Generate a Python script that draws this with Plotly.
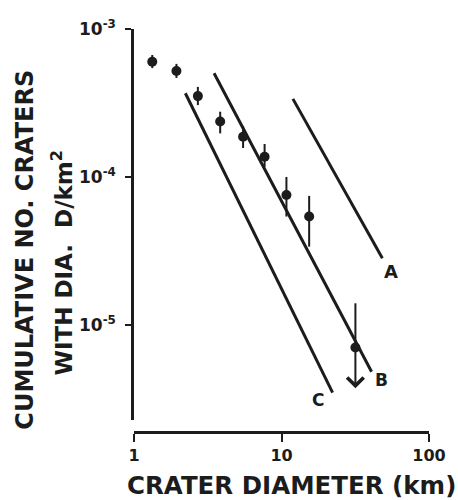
import numpy as np
import plotly.graph_objects as go

# ---- data ----
diam_km = [1.33, 1.94, 2.71, 3.84, 5.49, 7.68, 10.8, 15.4, 31.7]
cum_density = [6.01e-4, 5.20e-4, 3.52e-4, 2.37e-4, 1.87e-4, 1.37e-4, 7.55e-5, 5.40e-5, 7.03e-6]
err_upper = [6.67e-4, 5.81e-4, 4.06e-4, 2.76e-4, 2.21e-4, 1.67e-4, 1.00e-4, 7.45e-5, 1.40e-5]
err_lower = [5.44e-4, 4.67e-4, 3.06e-4, 1.97e-4, 1.57e-4, 1.17e-4, 5.40e-5, 3.38e-5, 7.03e-6]
upper_limit_arrow_end = 3.73e-6  # last point is an upper limit (arrow)

line_A_x = [11.95, 48.3]
line_A_y = [3.37e-4, 2.82e-5]
line_B_x = [3.49, 40.8]
line_B_y = [5.02e-4, 4.83e-6]
line_C_x = [2.23, 22.2]
line_C_y = [3.68e-4, 3.49e-6]
line_labels = ["A", "B", "C"]
label_x = [55.2, 47.7, 17.7]
label_y = [2.28e-5, 4.25e-6, 3.11e-6]

x_tickvals = [1, 10, 100]
x_ticktext = ["1", "10", "100"]
y_tickvals = [1e-3, 1e-4, 1e-5]
y_ticktext = ["10<sup>-3</sup>", "10<sup>-4</sup>", "10<sup>-5</sup>"]

INK = "#1c1c1c"
FONT = "DejaVu Sans"

fig = go.Figure()

for lx, ly in [(line_A_x, line_A_y), (line_B_x, line_B_y), (line_C_x, line_C_y)]:
    fig.add_trace(go.Scatter(x=lx, y=ly, mode="lines",
                             line=dict(color=INK, width=3), showlegend=False,
                             hoverinfo="skip"))

plus = [u - y for u, y in zip(err_upper, cum_density)]
minus = [y - l for l, y in zip(err_lower, cum_density)]
fig.add_trace(go.Scatter(
    x=diam_km, y=cum_density, mode="markers",
    marker=dict(size=10, color=INK),
    error_y=dict(type="data", symmetric=False, array=plus, arrayminus=minus,
                 thickness=2, width=0, color=INK),
    showlegend=False))

annotations = []
# upper-limit arrow on last point
annotations.append(dict(
    x=np.log10(diam_km[-1]), y=np.log10(upper_limit_arrow_end),
    ax=np.log10(diam_km[-1]), ay=np.log10(cum_density[-1]),
    xref="x", yref="y", axref="x", ayref="y",
    showarrow=True, arrowhead=4, arrowsize=1.6, arrowwidth=2, arrowcolor=INK,
    text=" ", font=dict(size=2)))

label_sizes = [18, 17, 17]
for t, lx, ly, s in zip(line_labels, label_x, label_y, label_sizes):
    annotations.append(dict(x=np.log10(lx), y=np.log10(ly), xref="x", yref="y",
                            text=t, showarrow=False,
                            font=dict(family=FONT, size=s, color=INK, weight="bold")))

# axis titles
annotations.append(dict(x=-0.37, y=0.452, xref="paper", yref="paper",
                        text="CUMULATIVE NO. CRATERS", textangle=-90, showarrow=False,
                        xanchor="center", yanchor="middle",
                        font=dict(family=FONT, size=24, color=INK, weight="bold")))
annotations.append(dict(x=-0.245, y=0.42, xref="paper", yref="paper",
                        text="WITH DIA.  D/km<sup>2</sup>", textangle=-90, showarrow=False,
                        xanchor="center", yanchor="middle",
                        font=dict(family=FONT, size=23, color=INK, weight="bold")))
annotations.append(dict(x=0.535, y=-0.133, xref="paper", yref="paper",
                        text="CRATER DIAMETER (km)", showarrow=False,
                        xanchor="center", yanchor="middle",
                        font=dict(family=FONT, size=24.5, color=INK, weight="bold")))

fig.update_layout(
    width=458, height=500,
    margin=dict(l=134, r=22, t=29, b=68),
    paper_bgcolor="white", plot_bgcolor="white",
    annotations=annotations,
    xaxis=dict(type="log", range=[0, 2], showgrid=False, zeroline=False,
               showline=True, linewidth=2.5, linecolor=INK,
               ticks="outside", ticklen=8, tickwidth=2, tickcolor=INK,
               tickvals=x_tickvals, ticktext=x_ticktext,
               tickfont=dict(family=FONT, size=16, color=INK, weight="bold"),
               anchor="free", position=0),
    yaxis=dict(type="log", range=[-5.642, -3], domain=[0.03, 1], showgrid=False,
               zeroline=False, showline=True, linewidth=2.5, linecolor=INK,
               ticks="outside", ticklen=6, tickwidth=2, tickcolor=INK,
               tickvals=y_tickvals, ticktext=y_ticktext, ticklabelstandoff=6,
               tickfont=dict(family=FONT, size=17, color=INK, weight="bold")),
)

fig.write_html("out.html")
